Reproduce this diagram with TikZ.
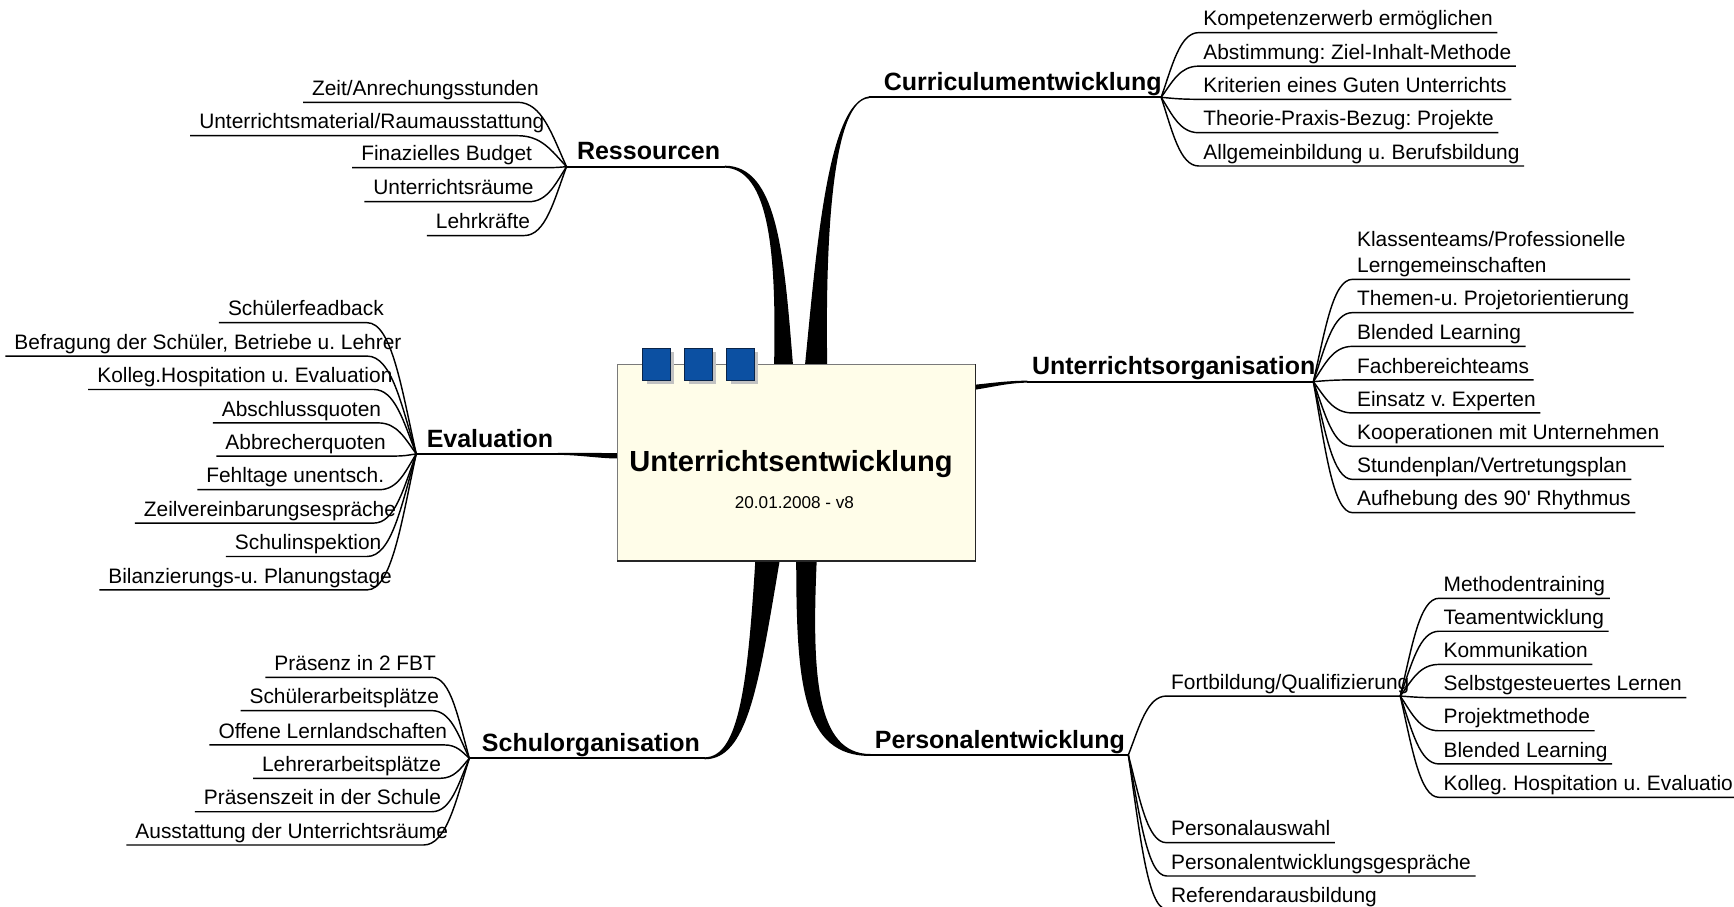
\documentclass[tikz,border=0pt]{standalone}
\usepackage{fontspec}
\setmainfont{Liberation Sans}[Ligatures=TeXOff]
\usetikzlibrary{calc}
\frenchspacing

\definecolor{notefill}{HTML}{FFFDE9}
\definecolor{noteline}{HTML}{7A7A7A}
\definecolor{tabblue}{HTML}{0C50A2}
\definecolor{tabline}{HTML}{0A2448}
\definecolor{tabshade}{HTML}{C2C2C2}

\tikzset{
  kidtext/.style={font=\fontsize{18.9pt}{23.5pt}\selectfont},
  topic/.style={font=\fontsize{22.6pt}{27pt}\selectfont\bfseries, inner xsep=4pt, inner ysep=0pt, text depth=6pt, anchor=south west},
  rkid/.style={kidtext, inner xsep=4pt, inner ysep=0pt, text depth=6pt, anchor=south west},
  lkid/.style={kidtext, inner xsep=8pt, inner ysep=0pt, text depth=6pt, anchor=south west},
  twig/.style={line width=1.3pt, line join=round},
  limb/.style={line width=1.8pt},
  branch/.style={to path={let \p1=(\tikztostart), \p2=(\tikztotarget) in
      .. controls ({\x1+0.3*(\x2-\x1)},{\y1+0.5*(\y2-\y1)})
             and ({\x1+0.5*(\x2-\x1)},{\y2}) .. (\tikztotarget)}},
  tab/.style={draw=tabline, line width=0.8pt, fill=tabblue, minimum width=25pt, minimum height=28.6pt, inner sep=0pt,
     preaction={fill=tabshade, transform canvas={shift={(3.6pt,-3.6pt)}}}},
}

\begin{document}
\frenchspacing
\begin{tikzpicture}[x=1pt, y=-1pt]
\useasboundingbox (0,0) rectangle (1568,820);
\fill[white] (0,0) rectangle (1568,820);

% central topic frame (filled later, above the limbs)
\node[minimum width=323.5pt, minimum height=177.5pt, inner sep=0pt] (core) at (720.25,418.25) {};

% main topics
\node[topic] (res) at (517.6,150.7) {Ressourcen};
\node[topic] (cur) at (795,88) {Curriculumentwicklung};
\node[topic] (uno) at (929,345.1) {Unterrichtsorganisation};
\node[topic] (per) at (787,682.7) {Personalentwicklung};
\node[topic] (sch) at (431.6,685.7) {Schulorganisation};
\node[topic] (eva) at (381.7,410.4) {Evaluation};

% fan points at the ends of the topic lines
\coordinate (resJ) at (512.3,150.7);
\coordinate (curJ) at (1050,88);
\coordinate (curS) at ([xshift=-9pt]cur.south west);
\coordinate (unoJ) at (1187.6,345.1);
\coordinate (perJ) at (1020.3,682.7);
\coordinate (schJ) at (424.4,685.7);
\coordinate (evaJ) at (376.4,410.4);
\coordinate (fortJ) at (1266.2,629.4);

% tapered limbs from the central topic
\fill ([xshift=-20.25pt]core.north) .. controls (702,230) and (696,153) .. ([yshift=-0.9pt]res.south east)
   -- ([yshift=0.9pt]res.south east) .. controls (703,150) and (709,230) .. ([xshift=-3.25pt]core.north) -- cycle;
\fill ([xshift=7.75pt]core.north) .. controls (738,230) and (748,92) .. ([yshift=0.85pt]curS)
   -- ([yshift=-0.85pt]curS) .. controls (755,90) and (746,200) .. ([xshift=27.75pt]core.north) -- cycle;
\fill ([xshift=-37.25pt]core.south) .. controls (676,620) and (668,684.8) .. ([yshift=0.9pt]sch.south east)
   -- ([yshift=-0.9pt]sch.south east) .. controls (676,686.6) and (686,620) .. ([xshift=-15.25pt]core.south) -- cycle;
\fill ([xshift=-0.25pt]core.south) .. controls (720,620) and (726,683.6) .. ([yshift=-0.9pt]per.south west)
   -- ([yshift=0.9pt]per.south west) .. controls (738,681.8) and (734,610) .. ([xshift=18.25pt]core.south) -- cycle;
\fill ([yshift=-18.5pt]core.north east) .. controls (900,346) and (912,344.3) .. ([yshift=0.9pt]uno.south west)
   -- ([yshift=-0.9pt]uno.south west) .. controls (912,346.3) and (900,349.5) .. ([yshift=-23pt]core.north east) -- cycle;
\fill ([yshift=8.45pt]core.west) .. controls (540,409.5) and (520,409.5) .. ([yshift=0.9pt]eva.south east)
   -- ([yshift=-0.9pt]eva.south east) .. controls (525,411.5) and (542,414.5) .. ([yshift=3.65pt]core.west) -- cycle;

% topic lines
\draw[limb] (resJ) -- (res.south east);
\draw[limb] (curS) -- (curJ);
\draw[limb] (uno.south west) -- (unoJ);
\draw[limb] (per.south west) -- (perJ);
\draw[limb] (schJ) -- (sch.south east);
\draw[limb] (evaJ) -- (eva.south east);

% central topic
\fill[notefill] (core.south west) rectangle (core.north east);
\draw[noteline, line width=1.1pt] (core.south west) -- (core.north west) -- (core.north east);
\draw[black!85, line width=1.1pt] (core.north east) -- (core.south east) -- (core.south west);
\node[tab] (tab1) at (593.75,329.3) {};
\node[tab] (tab2) at (631.6,329.3) {};
\node[tab] (tab3) at (669.5,329.3) {};
\node[font=\fontsize{26.3pt}{30pt}\selectfont\bfseries, anchor=base, inner sep=0pt] (title) at (715.3,426.5) {Unterrichtsentwicklung};
\node[font=\fontsize{15.5pt}{18pt}\selectfont, anchor=base, inner sep=0pt] (date) at (718.4,459.6) {20.01.2008 - v8};

% Curriculumentwicklung
\node[rkid] (c1) at (1084,29.5) {Kompetenzerwerb ermöglichen};
\node[rkid] (c2) at (1084,59.8) {Abstimmung: Ziel-Inhalt-Methode};
\node[rkid] (c3) at (1084,89.8) {Kriterien eines Guten Unterrichts};
\node[rkid] (c4) at (1084,120) {Theorie-Praxis-Bezug: Projekte};
\node[rkid] (c5) at (1084,150.1) {Allgemeinbildung u. Berufsbildung};
\foreach \k in {1,...,5}
  \draw[twig] (curJ) to[branch] (c\k.south west) -- (c\k.south east);

% Unterrichtsorganisation
\node[rkid] (u1) at (1223,252.6) {\begin{tabular}[b]{@{}l@{}}Klassenteams/Professionelle\\Lerngemeinschaften\end{tabular}};
\node[rkid] (u2) at (1223,282.7) {Themen-u. Projetorientierung};
\node[rkid] (u3) at (1223,313.2) {Blended Learning};
\node[rkid] (u4) at (1223,343.5) {Fachbereichteams};
\node[rkid] (u5) at (1223,373.4) {Einsatz v. Experten};
\node[rkid] (u6) at (1223,403.6) {Kooperationen mit Unternehmen};
\node[rkid] (u7) at (1223,433.5) {Stundenplan/Vertretungsplan};
\node[rkid] (u8) at (1223,463.6) {Aufhebung des 90' Rhythmus};
\foreach \k in {1,...,8}
  \draw[twig] (unoJ) to[branch] (u\k.south west) -- (u\k.south east);

% Personalentwicklung
\node[rkid] (fort) at (1054.8,629.4) {Fortbildung/Qualifizierung};
\node[rkid] (p2) at (1054.8,762) {Personalauswahl};
\node[rkid] (p3) at (1054.8,792.1) {Personalentwicklungsgespräche};
\node[rkid] (p4) at (1054.8,822) {Referendarausbildung};
\draw[twig] (perJ) to[branch] (fort.south west) -- (fortJ);
\foreach \k in {2,3,4}
  \draw[twig] (perJ) to[branch] (p\k.south west) -- (p\k.south east);

\node[rkid] (f1) at (1301.2,541) {Methodentraining};
\node[rkid] (f2) at (1301.2,570.8) {Teamentwicklung};
\node[rkid] (f3) at (1301.2,600.8) {Kommunikation};
\node[rkid] (f4) at (1301.2,630.9) {Selbstgesteuertes Lernen};
\node[rkid] (f5) at (1301.2,660.8) {Projektmethode};
\node[rkid] (f6) at (1301.2,690.8) {Blended Learning};
\node[rkid] (f7) at (1301.2,721) {Kolleg. Hospitation u. Evaluation};
\foreach \k in {1,...,7}
  \draw[twig] (fortJ) to[branch] (f\k.south west) -- (f\k.south east);

% Ressourcen
\node[lkid] (r1) at (274,92.5) {Zeit/Anrechungsstunden};
\node[lkid] (r2) at (172,122.7) {Unterrichtsmaterial/Raumausstattung};
\node[lkid] (r3) at (318.5,151.6) {Finazielles Budget};
\node[lkid] (r4) at (329.4,182.4) {Unterrichtsräume};
\node[lkid] (r5) at (386,213) {Lehrkräfte};
\foreach \k/\len in {1/194, 2/296, 3/176.5, 4/148.6, 5/88}
  \coordinate (rt\k) at ($(r\k.south west)+(\len,0)$);
\foreach \k in {1,...,5}
  \draw[twig] (resJ) to[branch] (rt\k) -- (r\k.south west);

% Evaluation
\node[lkid] (e1) at (198,291.8) {Schülerfeadback};
\node[lkid] (e2) at (4.9,322) {Befragung der Schüler, Betriebe u. Lehrer};
\node[lkid] (e3) at (79.8,352.2) {Kolleg.Hospitation u. Evaluation};
\node[lkid] (e4) at (192.4,382.4) {Abschlussquoten};
\node[lkid] (e5) at (195.7,412.4) {Abbrecherquoten};
\node[lkid] (e6) at (178.4,442.8) {Fehltage unentsch.};
\node[lkid] (e7) at (121.9,473) {Zeilvereinbarungsespräche};
\node[lkid] (e8) at (204.2,503.2) {Schulinspektion};
\node[lkid] (e9) at (89.8,533.4) {Bilanzierungs-u. Planungstage};
\foreach \k/\len in {1/134, 2/327.1, 3/258.2, 4/149.6, 5/160.3, 6/164.6, 7/216.1, 8/127.8, 9/242.2}
  \coordinate (et\k) at ($(e\k.south west)+(\len,0)$);
\foreach \k in {1,...,9}
  \draw[twig] (evaJ) to[branch] (et\k) -- (e\k.south west);

% Schulorganisation
\node[lkid] (s1) at (240,612.5) {Präsenz in 2 FBT};
\node[lkid] (s2) at (217.5,642.6) {Schülerarbeitsplätze};
\node[lkid] (s3) at (189.4,673.6) {Offene Lernlandschaften};
\node[lkid] (s4) at (228.8,703.8) {Lehrerarbeitsplätze};
\node[lkid] (s5) at (176.2,734) {Präsenszeit in der Schule};
\node[lkid] (s6) at (114.3,764.1) {Ausstattung der Unterrichtsräume};
\foreach \k/\len in {1/150.6, 2/173.1, 3/212.4, 4/169.1, 5/214.4, 6/268.7}
  \coordinate (st\k) at ($(s\k.south west)+(\len,0)$);
\foreach \k in {1,...,6}
  \draw[twig] (schJ) to[branch] (st\k) -- (s\k.south west);
\end{tikzpicture}
\end{document}
